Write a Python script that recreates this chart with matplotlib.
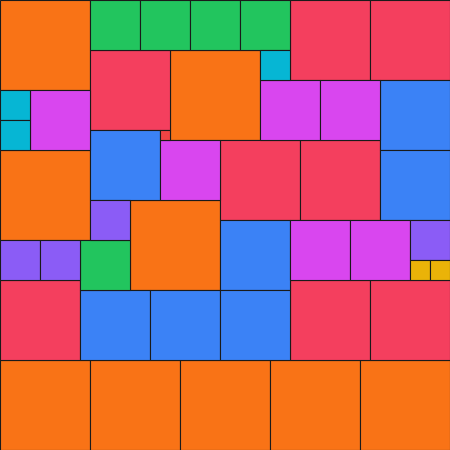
import matplotlib
matplotlib.use("Agg")
import matplotlib.pyplot as plt
from matplotlib.patches import Rectangle

# Partridge tiling: each square given by (x, y, size) in units of 10 px
sizes = [9, 8, 7, 6, 5, 4, 3, 2, 1]
colors = {9: "#f97316", 8: "#f43f5e", 7: "#3b82f6", 6: "#d946ef", 5: "#22c55e",
          4: "#8b5cf6", 3: "#06b6d4", 2: "#eab308", 1: "#ef4444"}

xs = [0, 17, 0, 13, 0, 9, 18, 27, 36,
      29, 37, 9, 22, 30, 0, 29, 37,
      38, 9, 38, 22, 8, 15, 22,
      3, 26, 32, 16, 29, 35,
      9, 14, 19, 24, 8,
      9, 41, 0, 4,
      26, 0, 0,
      41, 43,
      16]
ys = [0, 5, 15, 20, 36, 36, 36, 36, 36,
      0, 0, 5, 14, 14, 28, 28, 28,
      8, 13, 15, 22, 29, 29, 29,
      9, 8, 8, 14, 22, 22,
      0, 0, 0, 0, 24,
      20, 22, 24, 24,
      5, 9, 12,
      26, 26,
      13]
ss = [9, 9, 9, 9, 9, 9, 9, 9, 9,
      8, 8, 8, 8, 8, 8, 8, 8,
      7, 7, 7, 7, 7, 7, 7,
      6, 6, 6, 6, 6, 6,
      5, 5, 5, 5, 5,
      4, 4, 4, 4,
      3, 3, 3,
      2, 2,
      1]

fig = plt.figure(figsize=(4.5, 4.5), dpi=100)
ax = fig.add_axes([0, 0, 1, 1])
for x, y, s in zip(xs, ys, ss):
    ax.add_patch(Rectangle((x, y), s, s, facecolor=colors[s],
                           edgecolor="#1a1a1a", linewidth=0.8))
ax.set_xlim(0, 45)
ax.set_ylim(45, 0)
ax.axis("off")
fig.savefig("out.png", dpi=100)
